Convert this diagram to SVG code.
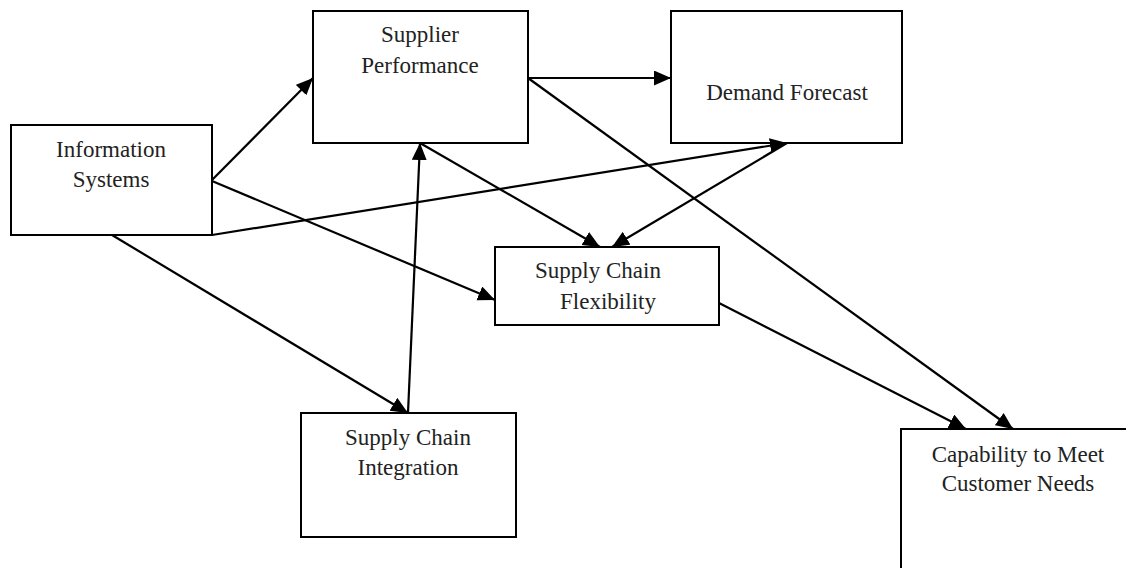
<svg xmlns="http://www.w3.org/2000/svg" width="1126" height="568" viewBox="0 0 1126 568">
<style>
.box{fill:#fff;stroke:#000;stroke-width:2}
.lbl{font-family:"Liberation Serif","Times New Roman",serif;font-size:23px;fill:#222;text-anchor:middle}
.edge{stroke:#000;stroke-width:2.2;fill:none;marker-end:url(#ah)}
</style>
<defs>
<marker id="ah" markerUnits="userSpaceOnUse" markerWidth="18" markerHeight="16" refX="17" refY="7.5" orient="auto">
<path d="M0,0 L17,7.5 L0,15 z" fill="#000"/>
</marker>
</defs>
<rect width="1126" height="568" fill="#fff"/>
<g id="n-is"><rect class="box" x="11" y="125" width="201" height="110"/><text class="lbl" x="111" y="157">Information</text><text class="lbl" x="111" y="187">Systems</text></g>
<g id="n-sp"><rect class="box" x="313" y="11" width="215" height="132"/><text class="lbl" x="420" y="42">Supplier</text><text class="lbl" x="420" y="73">Performance</text></g>
<g id="n-df"><rect class="box" x="671" y="11" width="231" height="132"/><text class="lbl" x="787" y="100">Demand Forecast</text></g>
<g id="n-scf"><rect class="box" x="495" y="247" width="224" height="78"/><text class="lbl" x="598" y="278">Supply Chain</text><text class="lbl" x="608" y="309">Flexibility</text></g>
<g id="n-sci"><rect class="box" x="301" y="413" width="215" height="124"/><text class="lbl" x="408" y="445">Supply Chain</text><text class="lbl" x="408" y="475">Integration</text></g>
<g id="n-cap"><rect class="box" x="901" y="429" width="240" height="160"/><text class="lbl" x="1018" y="462">Capability to Meet</text><text class="lbl" x="1018" y="491">Customer Needs</text></g>
<g id="connectors">
<line class="edge" x1="212" y1="180" x2="313" y2="78"/>
<line class="edge" x1="212" y1="181" x2="495" y2="300"/>
<line class="edge" x1="212" y1="235" x2="787" y2="143"/>
<line class="edge" x1="112" y1="235" x2="408" y2="413"/>
<line class="edge" x1="408" y1="413" x2="420" y2="143"/>
<line class="edge" x1="420" y1="143" x2="600" y2="247"/>
<line class="edge" x1="787" y1="143" x2="612" y2="247"/>
<line class="edge" x1="528" y1="78" x2="671" y2="78"/>
<line class="edge" x1="528" y1="78" x2="1013" y2="429"/>
<line class="edge" x1="719" y1="303" x2="966" y2="429"/>
</g>
</svg>
